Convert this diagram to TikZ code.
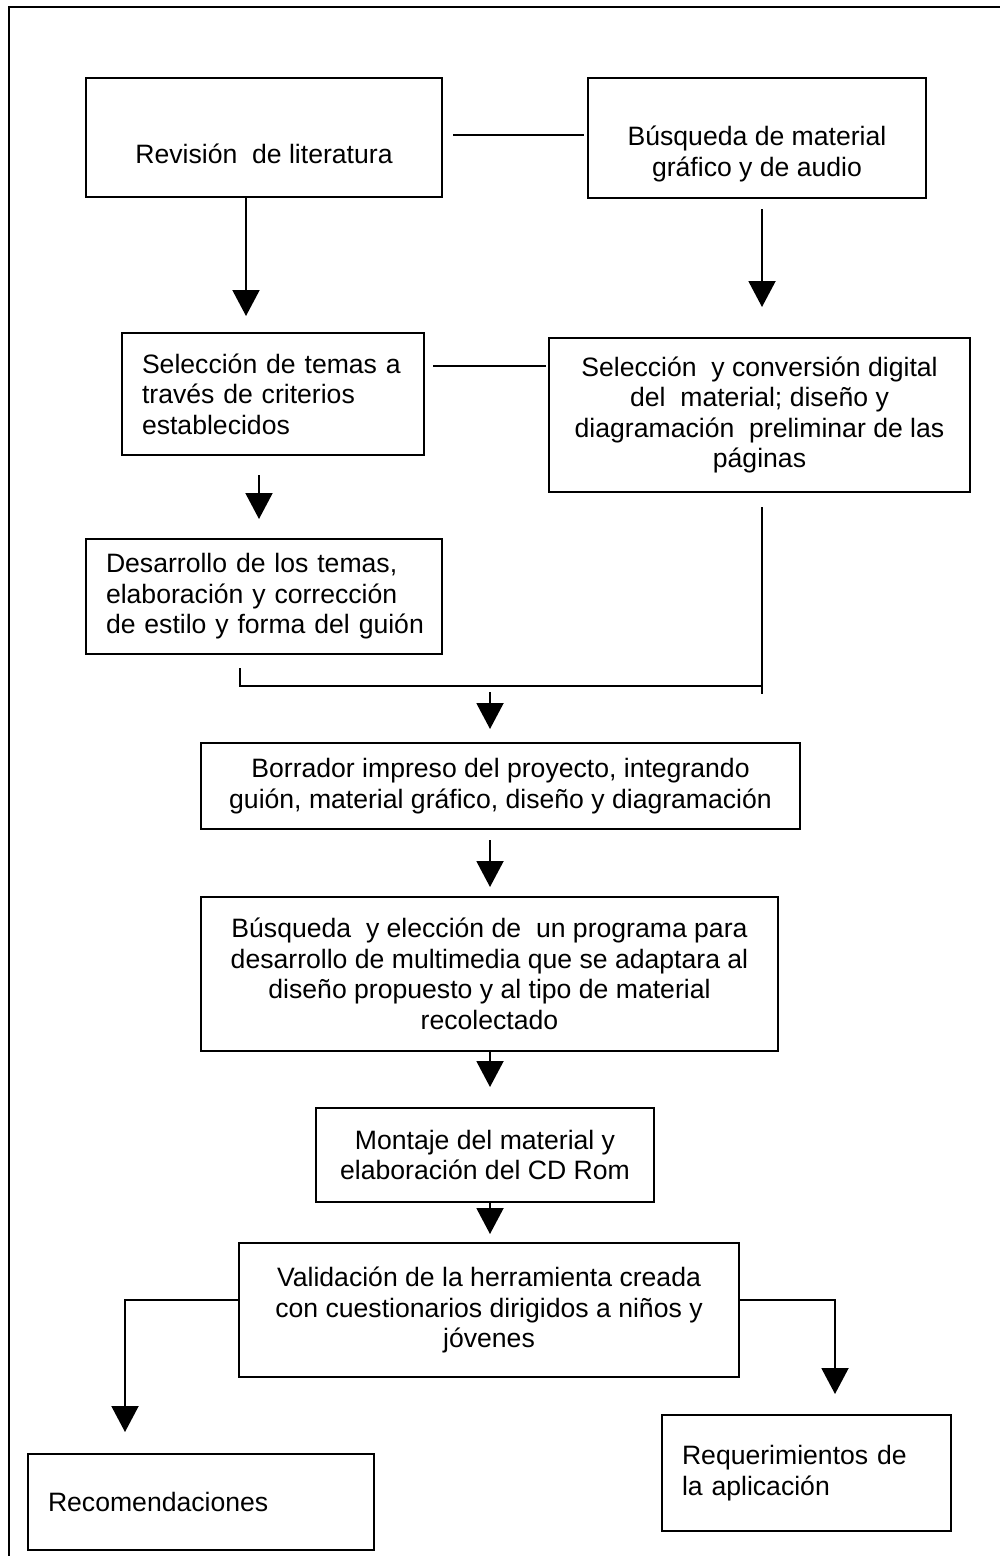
\documentclass[tikz,border=0pt]{standalone}
\usepackage{fontspec}
\setmainfont{Liberation Sans}
\usetikzlibrary{arrows.meta}
\begin{document}
\begin{tikzpicture}[x=1pt,y=-1pt,
  box/.style={draw, line width=2pt, rectangle, inner sep=0pt,
    font=\fontsize{26.6}{30.6}\selectfont, align=center},
  lbox/.style={box, align=left, inner xsep=20pt},
  conn/.style={line width=2pt},
  arr/.style={conn, -{Triangle[width=27pt,length=26pt]}}]
\useasboundingbox (0,0) rectangle (1000,1556);
% outer frame (only left and top edges fall inside the page)
\draw[conn] (9,1570) -- (9,7) -- (1010,7);

% boxes
\node[box, minimum width=356, minimum height=119] (b1) at (264,137.5)
  {\strut\\Revisión\ \ de literatura};
\node[box, minimum width=338, minimum height=120] (b2) at (757,138)
  {\strut\\Búsqueda de material\\gráfico y de audio};
\node[lbox, minimum width=302, minimum height=122, text width=262pt] (b4) at (273,394)
  {\mbox{Selección de temas a}\\\mbox{través de criterios}\\\mbox{establecidos}};
\node[box, minimum width=421, minimum height=154] (b5) at (759.5,415)
  {Selección\ \ y conversión digital\\del\ \ material; diseño y\\diagramación\ \ preliminar de las\\páginas};
\node[lbox, minimum width=356, minimum height=115, text width=316pt] (b7) at (264,596.5)
  {\mbox{Desarrollo de los temas,}\\\mbox{elaboración y corrección}\\\mbox{de estilo y forma del guión}};
\node[box, minimum width=599, minimum height=86] (b9) at (500.5,786)
  {Borrador impreso del proyecto, integrando\\guión, material gráfico, diseño y diagramación};
\node[box, minimum width=577, minimum height=154] (b10) at (489.5,974)
  {Búsqueda\ \ y elección de\ \ un programa para\\desarrollo de multimedia que se adaptara al\\diseño propuesto y al tipo de material\\recolectado};
\node[box, minimum width=338, minimum height=94] (b11) at (485,1155)
  {Montaje del material y\\elaboración del CD Rom};
\node[box, minimum width=500, minimum height=134] (b12) at (489,1310)
  {Validación de la herramienta creada\\con cuestionarios dirigidos a niños y\\jóvenes};
\node[lbox, minimum width=346, minimum height=96, text width=306pt] (b13) at (201,1502)
  {\mbox{Recomendaciones}};
\node[lbox, minimum width=289, minimum height=116, text width=249pt] (b14) at (806.5,1473)
  {\mbox{Requerimientos de}\\\mbox{la aplicación}};

% horizontal links
\draw[conn] ([xshift=10pt,yshift=2.5pt]b1.east) -- ([xshift=-3pt,yshift=3pt]b2.west);
\draw[conn] ([xshift=8pt,yshift=28pt]b4.east) -- ([xshift=-2pt,yshift=49pt]b5.west);

% arrows
\draw[arr] ([xshift=-18pt]b1.south) -- ([xshift=-27pt,yshift=16pt]b4.north);
\draw[arr] ([xshift=5pt,yshift=-10pt]b2.south) -- ([xshift=2.5pt,yshift=30pt]b5.north);
\draw[arr] ([xshift=-14pt,yshift=-19pt]b4.south) -- ([xshift=-5pt,yshift=19pt]b7.north);

% merge
\coordinate (m) at (762,686);
\coordinate (mid) at (490,692);
\draw[conn] ([xshift=-24pt,yshift=-13pt]b7.south) |- (m);
\draw[conn] ([xshift=2.5pt,yshift=-14pt]b5.south) -- ++(0,187);
\draw[arr] (mid) -- ([xshift=-10.5pt,yshift=13pt]b9.north);

\draw[arr] ([xshift=-10.5pt,yshift=-10pt]b9.south) -- ([xshift=0.5pt,yshift=9pt]b10.north);
\draw[arr] ([xshift=0.5pt]b10.south) -- ([xshift=5pt,yshift=20pt]b11.north);
\draw[arr] ([xshift=5pt]b11.south) -- ([xshift=1pt,yshift=8pt]b12.north);

% branches
\draw[arr] ([yshift=10pt]b12.west) -| ([xshift=-76pt,yshift=21pt]b13.north);
\draw[arr] ([yshift=10pt]b12.east) -| ([xshift=28.5pt,yshift=20pt]b14.north);
\end{tikzpicture}
\end{document}
